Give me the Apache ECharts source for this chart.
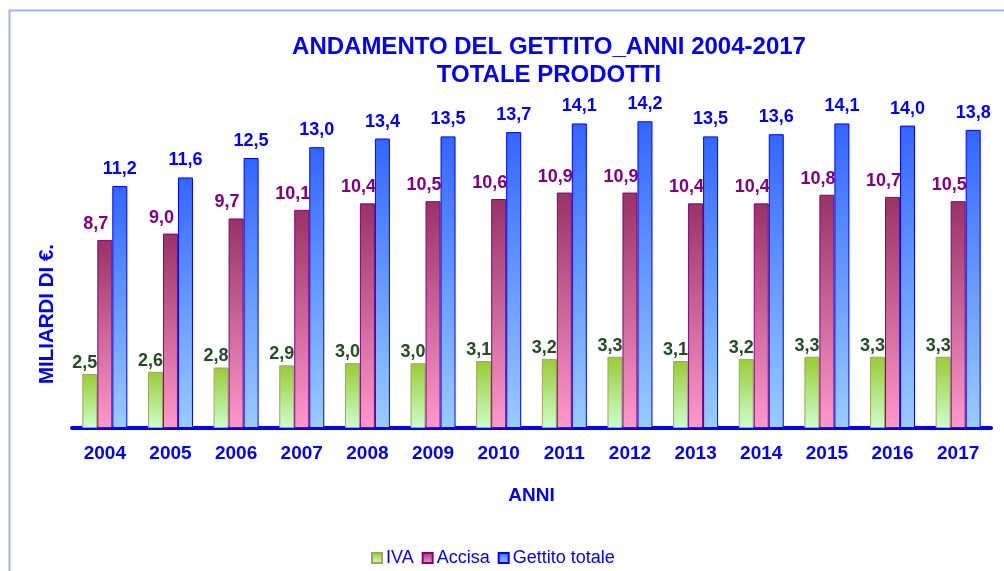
<!DOCTYPE html>
<html>
<head>
<meta charset="utf-8">
<script src="https://cdn.jsdelivr.net/npm/echarts@6/dist/echarts.min.js"></script>
<style>
  html, body { margin: 0; padding: 0; background: #fff; }
  #chart { width: 1004px; height: 571px; }
</style>
</head>
<body>
<div id="chart"></div>
<script>
// anni
const categories = ['2004', '2005', '2006', '2007', '2008', '2009', '2010', '2011', '2012', '2013', '2014', '2015', '2016', '2017']
// miliardi di euro
const iva = [2.5, 2.6, 2.8, 2.9, 3.0, 3.0, 3.1, 3.2, 3.3, 3.1, 3.2, 3.3, 3.3, 3.3]
const accisa = [8.7, 9.0, 9.7, 10.1, 10.4, 10.5, 10.6, 10.9, 10.9, 10.4, 10.4, 10.8, 10.7, 10.5]
const gettito = [11.2, 11.6, 12.5, 13.0, 13.4, 13.5, 13.7, 14.1, 14.2, 13.5, 13.6, 14.1, 14.0, 13.8]

const FONT = '"Liberation Sans", Arial, sans-serif'
const BLUE = '#0000ff'

let myChart = echarts.init(document.getElementById('chart'), null, { renderer: 'canvas' })

function grad(top, bottom) {
  return new echarts.graphic.LinearGradient(0, 0, 0, 1, [
    { offset: 0, color: top },
    { offset: 1, color: bottom }
  ])
}

function fmt(p) {
  return p.value.toFixed(1).replace('.', ',')
}

function barSeries(name, data, top, bottom, border, labelColor, dist, dx) {
  return {
    name: name,
    type: 'bar',
    barWidth: 15,
    barGap: '0%',
    data: data,
    itemStyle: {
      color: grad(top, bottom),
      borderColor: border,
      borderWidth: 1
    },
    label: {
      show: true,
      position: 'top',
      distance: dist,
      offset: [dx, 0],
      color: labelColor,
      fontFamily: FONT,
      fontWeight: 'bold',
      fontSize: 18,
      formatter: fmt
    },
    silent: true
  }
}

let option = {
  animation: false,
  backgroundColor: '#fff',
  title: {
    text: 'ANDAMENTO DEL GETTITO_ANNI 2004-2017\nTOTALE PRODOTTI',
    left: 544,
    top: 28,
    textAlign: 'center',
    textStyle: {
      color: BLUE,
      fontFamily: FONT,
      fontWeight: 'bold',
      fontSize: 24,
      lineHeight: 28
    }
  },
  grid: {
    left: 72,
    right: 13,
    top: 82.4,
    bottom: 143
  },
  legend: {
    bottom: -1,
    left: 366,
    icon: 'rect',
    itemWidth: 10,
    itemHeight: 10,
    itemGap: 8,
    textStyle: {
      color: BLUE,
      fontFamily: FONT,
      fontSize: 18,
      padding: [0, 0, 0, -1]
    },
    data: ['IVA', 'Accisa', 'Gettito totale']
  },
  xAxis: {
    type: 'category',
    data: categories,
    name: 'ANNI',
    nameLocation: 'middle',
    nameGap: 58,
    nameTextStyle: {
      color: BLUE,
      fontFamily: FONT,
      fontWeight: 'bold',
      fontSize: 19
    },
    axisLine: { show: true, lineStyle: { color: BLUE, width: 4 } },
    axisTick: { show: false },
    axisLabel: {
      color: BLUE,
      fontFamily: FONT,
      fontWeight: 'bold',
      fontSize: 19,
      margin: 16
    }
  },
  yAxis: {
    type: 'value',
    min: 0,
    max: 16,
    show: false,
    splitLine: { show: false }
  },
  graphic: [
    {
      type: 'rect',
      left: 7,
      top: 8,
      silent: true,
      shape: { width: 1200, height: 800 },
      style: { fill: 'none', stroke: '#9db6e4', lineWidth: 2 }
    },
    {
      type: 'text',
      x: 47,
      y: 314,
      rotation: Math.PI / 2,
      silent: true,
      style: {
        text: 'MILIARDI DI €.',
        fill: BLUE,
        font: 'bold 20.5px ' + FONT,
        textAlign: 'center',
        textVerticalAlign: 'middle'
      }
    }
  ],
  series: [
    barSeries('IVA', iva, '#99cc33', '#ccffcc', '#a3a35c', '#1f4e1f', 2, -5),
    barSeries('Accisa', accisa, '#993366', '#ff99cc', '#800080', '#800080', 7, -9),
    barSeries('Gettito totale', gettito, '#3366ff', '#99ccff', BLUE, BLUE, 8, 0)
  ]
}

myChart.setOption(option)
window.addEventListener('resize', () => {
  myChart.resize()
})
</script>
</body>
</html>
